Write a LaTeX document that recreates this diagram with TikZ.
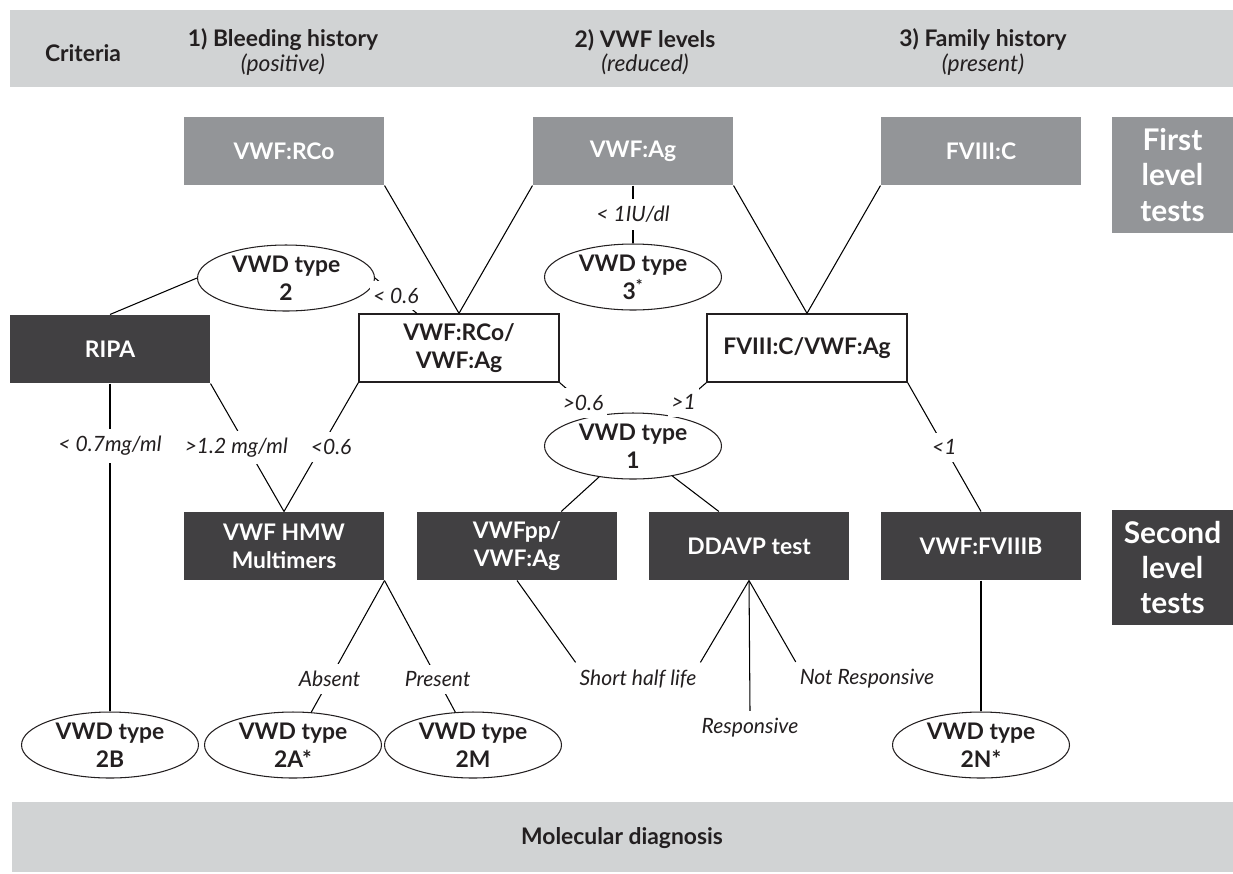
\documentclass[tikz,border=0pt]{standalone}
\usepackage{fontspec}
\setmainfont{Lato}
\usepackage{xcolor}
\usetikzlibrary{shapes,calc,positioning}
\definecolor{bandgray}{HTML}{D1D3D4}
\definecolor{testgray}{HTML}{939598}
\definecolor{darkbox}{HTML}{414042}
\definecolor{inkgray}{HTML}{231F20}

\begin{document}
\begin{tikzpicture}[x=0.02cm, y=-0.02cm,
    tst/.style={fill=testgray, text=white, minimum width=4cm, minimum height=1.36cm, inner sep=0pt, align=center, font=\fontsize{13}{16}\selectfont\bfseries},
    snd/.style={tst, fill=darkbox},
    rat/.style={tst, fill=white, draw=inkgray, text=inkgray, line width=0.8pt},
    typ/.style={draw=inkgray, ellipse, minimum width=3.54cm, minimum height=1.32cm, inner sep=0pt, align=center, font=\fontsize{13}{16}\selectfont\bfseries, text=inkgray},
    cut/.style={fill=white, inner xsep=2pt, inner ysep=4pt, font=\fontsize{12}{14}\selectfont\itshape, text=inkgray},
    lvl/.style={text=white, inner sep=0pt, align=center, font=\fontsize{17}{20}\selectfont\bfseries},
    hdr/.style={align=center, text=inkgray, font=\fontsize{13}{14}\selectfont},
    line width=0.6pt
]
\useasboundingbox (0,0) rectangle (1233,873);

% criteria band
\fill[bandgray] (10,10) rectangle (1233,87);
\node[hdr] (crit)  at (83,53)  {\textbf{Criteria}};
\node[hdr] (bleed) at (283,52) {\textbf{1) Bleeding history}\\\textit{(positive)}};
\node[hdr] (vwfl)  at (645,52) {\textbf{2) VWF levels}\\\textit{(reduced)}};
\node[hdr] (fam)   at (983,52) {\textbf{3) Family history}\\\textit{(present)}};

% first level
\node[tst] (rco) at (284,151) {VWF:RCo};
\node[tst] (ag)  at (633,151) {VWF:Ag};
\node[tst] (f8)  at (981,151) {FVIII:C};
\node[lvl, fill=testgray, minimum width=2.42cm, minimum height=2.32cm] (first) at (1172.5,175) {First\\level\\tests};

\node[typ] (t2) at (286,278) {VWD type\\2};
\node[typ] (t3) at (633,277) {VWD type\\3\textsuperscript{*}};

\node[snd] (ripa)   at (110,349) {RIPA};
\node[rat] (ratio)  at (459,348) {VWF:RCo/\\VWF:Ag};
\node[rat] (fratio) at (807,348) {FVIII:C/VWF:Ag};

\node[typ] (t1) at (633,446) {VWD type\\1};

% second level
\node[snd] (hmw)    at (284,546) {VWF HMW\\Multimers};
\node[snd] (vpp)    at (517,546) {VWFpp/\\VWF:Ag};
\node[snd] (ddavp)  at (749,546) {DDAVP test};
\node[snd] (fviiib) at (981,546) {VWF:FVIIIB};
\node[lvl, fill=darkbox, minimum width=2.42cm, minimum height=2.3cm] (second) at (1172.5,567.5) {Second\\level\\tests};

\node[cut] (shl)   at (638,679) {Short half life};
\node[cut] (nresp) at (867,679) {Not Responsive};
\node[cut] (resp)  at (750,728) {Responsive};

\node[typ] (t2b) at (110,745) {VWD type\\2B};
\node[typ] (t2a) at (293,745) {VWD type\\2A*};
\node[typ] (t2m) at (473,745) {VWD type\\2M};
\node[typ] (t2n) at (981,745) {VWD type\\2N*};

% molecular band
\fill[bandgray] (12,802) rectangle (1233,872);
\node[hdr] (mol) at (622,838) {\textbf{Molecular diagnosis}};

% connectors
\draw (rco.south east) -- (ratio.north);
\draw (ag.south west) -- (ratio.north);
\draw (ag.south east) -- (fratio.north);
\draw (f8.south west) -- (fratio.north);
\draw (ag) -- node[cut] {< 1IU/dl} (t3);
\draw (t2.west) -- (ripa.north);
\draw (t2.east) -- node[cut] {< 0.6} ($(ratio.north west)!0.29!(ratio.north east)$);
\draw (ripa) -- node[cut, pos=0.19] {< 0.7mg/ml} (t2b);
\draw (ripa.south east) -- node[cut, xshift=-0.22cm] {>1.2 mg/ml} (hmw.north);
\draw (ratio.south west) -- node[cut, xshift=0.2cm] {<0.6} (hmw.north);
\draw (ratio.south east) -- node[cut, pos=0.62] {>0.6} (t1);
\draw (fratio.south west) -- node[cut, pos=0.6] {>1} (t1);
\draw (fratio.south east) -- node[cut] {<1} (fviiib.north);
\draw (t1) -- ($(vpp.north west)!0.72!(vpp.north east)$);
\draw (t1) -- ($(ddavp.north west)!0.35!(ddavp.north east)$);
\draw (hmw.south east) -- node[cut, pos=0.75] {Absent} (t2a);
\draw (hmw.south east) -- node[cut, pos=0.75] {Present} (t2m);
\draw (vpp.south) -- (shl.north west);
\draw (ddavp.south) -- (shl.north east);
\draw (ddavp.south) -- (resp.north);
\draw (ddavp.south) -- (nresp.north west);
\draw (fviiib) -- (t2n);
\end{tikzpicture}
\end{document}
